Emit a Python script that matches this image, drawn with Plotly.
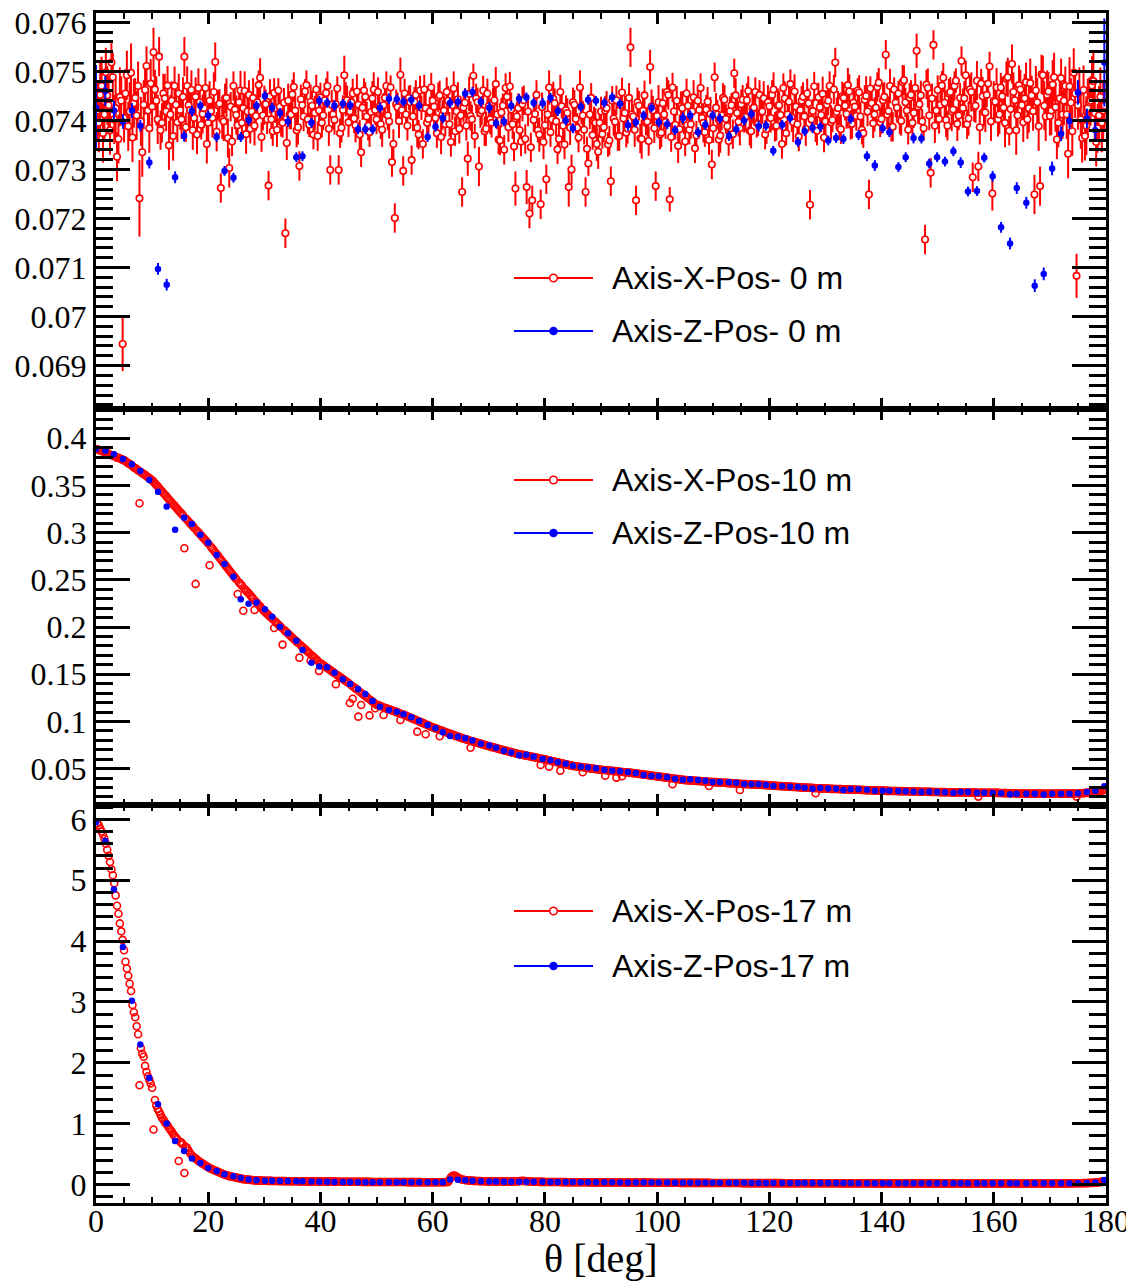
import numpy as np
import plotly.graph_objects as go
from plotly.subplots import make_subplots

# ---------------- data ----------------
# red series, bins A at 0.25 + 0.5*i  and bins B at 0.5 + 0.5*i (deg)
red_top_a = [
.07420,.07452,.07374,.07498,.07431,.07518,.07402,.07326,.07448,.06944,
.07455,.07388,.07497,.07435,.07410,.07241,.07335,.07462,.07420,.07475,
.07539,.07440,.07530,.07395,.07445,.07471,.07412,.07368,.07432,.07455,
.07402,.07530,.07470,.07421,.07380,.07448,.07466,.07391,.07425,.07352,
.07440,.07405,.07519,.07431,.07262,.07398,.07446,.07303,.07357,.07422,
.07390,.07461,.07425,.07372,.07452,.07418,.07389,.07437,.07487,.07410,
.07433,.07267,.07402,.07456,.07381,.07428,.07395,.07170,.07440,.07412,
.07468,.07380,.07307,.07431,.07459,.07402,.07438,.07371,.07463,.07420,
.07395,.07441,.07470,.07299,.07412,.07433,.07299,.07385,.07492,.07441,
.07418,.07455,.07390,.07432,.07335,.07461,.07408,.07376,.07445,.07421,
.07458,.07392,.07431,.07470,.07398,.07315,.07201,.07427,.07493,.07297,
.07412,.07446,.07319,.07438,.07385,.07461,.07352,.07425,.07403,.07467,
.07428,.07374,.07451,.07411,.07392,.07440,.07356,.07465,.07418,.07383,
.07254,.07436,.07322,.07409,.07491,.07445,.07306,.07420,.07378,.07455,
.07402,.07437,.07474,.07361,.07416,.07340,.07448,.07469,.07392,.07261,
.07425,.07357,.07441,.07264,.07210,.07237,.07413,.07380,.07229,.07356,
.07280,.07467,.07402,.07435,.07341,.07458,.07389,.07421,.07264,.07300,
.07432,.07385,.07467,.07410,.07254,.07312,.07446,.07398,.07352,.07395,
.07372,.07420,.07351,.07276,.07404,.07441,.07368,.07457,.07415,.07383,
.07549,.07408,.07237,.07430,.07362,.07451,.07397,.07509,.07420,.07266,
.07437,.07375,.07412,.07458,.07239,.07467,.07391,.07348,.07429,.07402,
.07455,.07381,.07418,.07343,.07440,.07466,.07395,.07422,.07360,.07310,
.07488,.07412,.07369,.07446,.07403,.07358,.07431,.07496,.07415,.07384,
.07442,.07407,.07460,.07378,.07426,.07395,.07452,.07418,.07371,.07437,
.07405,.07463,.07389,.07431,.07352,.07445,.07412,.07474,.07396,.07428,
.07367,.07440,.07408,.07455,.07228,.07419,.07386,.07447,.07411,.07365,
.07432,.07470,.07401,.07518,.07425,.07382,.07446,.07413,.07459,.07393,
.07428,.07461,.07408,.07374,.07450,.07249,.07435,.07412,.07468,.07396,
.07441,.07534,.07419,.07387,.07463,.07426,.07402,.07478,.07437,.07381,
.07452,.07415,.07542,.07433,.07398,.07157,.07466,.07293,.07554,.07420,
.07403,.07471,.07436,.07389,.07458,.07422,.07481,.07410,.07521,.07445,
.07392,.07463,.07284,.07430,.07306,.07475,.07418,.07452,.07510,.07251,
.07438,.07402,.07467,.07426,.07485,.07379,.07515,.07441,.07410,.07463,
.07396,.07478,.07425,.07451,.07249,.07437,.07266,.07492,.07408,.07459,
.07420,.07488,.07361,.07445,.07412,.07470,.07332,.07436,.07497,.07083,
.07458,.07364,.07368,.07425,.07440,.07480,.07356,.07410,.07395,.07430]

red_top_b = [
.07395,.07470,.07412,.07451,.07380,.07488,.07425,.07362,.07440,.07405,
.07492,.07418,.07365,.07446,.07470,.07398,.07432,.07511,.07384,.07428,
.07463,.07402,.07380,.07455,.07418,.07349,.07440,.07470,.07396,.07421,
.07448,.07386,.07431,.07462,.07405,.07371,.07437,.07413,.07466,.07395,
.07419,.07458,.07377,.07434,.07402,.07445,.07364,.07428,.07470,.07411,
.07437,.07395,.07460,.07418,.07383,.07446,.07409,.07472,.07366,.07431,
.07402,.07449,.07378,.07425,.07461,.07397,.07436,.07354,.07412,.07453,
.07420,.07386,.07443,.07408,.07472,.07391,.07430,.07415,.07368,.07447,
.07410,.07456,.07383,.07432,.07401,.07465,.07374,.07421,.07443,.07396,
.07437,.07404,.07459,.07371,.07426,.07448,.07389,.07417,.07463,.07402,
.07428,.07381,.07446,.07410,.07467,.07352,.07433,.07399,.07421,.07455,
.07389,.07437,.07408,.07452,.07371,.07426,.07463,.07395,.07418,.07440,
.07405,.07447,.07366,.07420,.07458,.07392,.07431,.07378,.07443,.07410,
.07426,.07389,.07454,.07402,.07368,.07437,.07415,.07461,.07383,.07429,
.07395,.07441,.07412,.07359,.07430,.07466,.07386,.07422,.07347,.07408,
.07380,.07433,.07362,.07418,.07345,.07401,.07452,.07371,.07427,.07390,
.07412,.07376,.07444,.07398,.07362,.07429,.07351,.07415,.07385,.07437,
.07403,.07365,.07428,.07381,.07342,.07412,.07370,.07395,.07336,.07418,
.07386,.07425,.07359,.07440,.07397,.07368,.07431,.07404,.07375,.07446,
.07412,.07381,.07437,.07363,.07420,.07395,.07358,.07428,.07384,.07409,
.07371,.07435,.07397,.07452,.07366,.07418,.07440,.07382,.07425,.07357,
.07430,.07392,.07447,.07369,.07421,.07405,.07376,.07438,.07413,.07384,
.07426,.07361,.07410,.07442,.07388,.07419,.07372,.07451,.07397,.07433,
.07405,.07441,.07379,.07424,.07458,.07393,.07416,.07445,.07382,.07429,
.07452,.07387,.07430,.07411,.07466,.07374,.07438,.07406,.07459,.07392,
.07421,.07448,.07383,.07435,.07402,.07469,.07379,.07427,.07454,.07398,
.07440,.07396,.07463,.07417,.07385,.07449,.07430,.07472,.07391,.07436,
.07409,.07457,.07381,.07442,.07418,.07465,.07394,.07426,.07477,.07403,
.07448,.07412,.07470,.07387,.07436,.07455,.07399,.07482,.07420,.07446,
.07395,.07466,.07428,.07451,.07384,.07473,.07410,.07445,.07389,.07462,
.07432,.07487,.07401,.07455,.07418,.07470,.07393,.07446,.07425,.07492,
.07404,.07458,.07427,.07481,.07386,.07449,.07416,.07475,.07398,.07440,
.07467,.07412,.07449,.07395,.07488,.07423,.07458,.07380,.07472,.07431,
.07445,.07402,.07476,.07419,.07461,.07388,.07494,.07430,.07452,.07409,
.07473,.07427,.07395,.07486,.07440,.07412,.07469,.07378,.07455,.07431,
.07402,.07462,.07389,.07437,.07471,.07415,.07384,.07448,.07420]

red_top_err_a = [
.0006,.0007,.0006,.0005,.0006,.0004,.0005,.0005,.0006,.00055,.0005,.0005,.0006,.0005,.0005,.00078,.0005,.0005,.0004,.0005,
.0005,.0005,.0004,.0004,.0005,.0004,.0004,.0005,.0004,.0004,.0004,.0004,.0004,.0004,.0004,.0004,.0004,.0003,.0004,.0004,
.0004,.0004,.0004,.0003,.0003,.0004,.0004,.0004,.0003,.0004,.0003,.0004,.0003,.0004,.0003,.0003,.0004,.0003,.0004,.0003,
.0003,.0003,.0004,.0003,.00035,.0003,.0003,.0003,.00035,.0003,.0003,.00035,.0003,.0003,.00025,.0003,.00035,.0003,.0003,.0003,
.0003,.00035,.0003,.0003,.0003,.00035,.0003,.0003,.0004,.0003,.0003,.0003,.00035,.0003,.0003,.00025,.0003,.0003,.00035,.0003,
.0003,.0003,.00025,.0003,.00035,.0003,.0003,.0003,.00035,.0003,.0003,.00025,.0003,.0003,.0004,.0003,.0003,.00035,.0003,.0003,
.00035,.0003,.0003,.0003,.00025,.0003,.0003,.00035,.0003,.0003,.0003,.0003,.00035,.0003,.00025,.0003,.0004,.0003,.0003,.0003,
.0003,.0003,.00035,.0003,.0003,.0003,.00025,.0003,.0003,.00035,.0003,.0003,.0003,.00035,.0003,.0003,.0003,.00025,.0003,.00035,
.0003,.00035,.0003,.0003,.0003,.00035,.0003,.0003,.0004,.0003,.0003,.0003,.00035,.0003,.0003,.00025,.0003,.0003,.00035,.0003,
.0003,.0003,.00025,.0003,.00035,.0003,.0003,.0003,.00035,.0003,.0004,.00025,.0003,.0003,.0004,.0003,.0003,.00035,.0003,.0003,
.00035,.0003,.0003,.0003,.00025,.0003,.0003,.00035,.0003,.0003,.0003,.0003,.00035,.0003,.00025,.0003,.0004,.0003,.0003,.0003,
.0003,.0003,.00035,.0003,.0003,.0003,.00025,.0003,.0003,.00035,.0003,.0003,.0003,.00035,.0003,.0003,.0003,.00025,.0003,.00035,
.0003,.00035,.0003,.0003,.0003,.00035,.0003,.0003,.0004,.0003,.0003,.0003,.00035,.0003,.0003,.00025,.0003,.0003,.00035,.0003,
.0003,.0003,.00025,.0003,.00035,.0003,.0003,.0003,.00035,.0003,.0003,.00025,.0003,.0003,.0004,.0003,.0003,.00035,.0003,.0003,
.00035,.0003,.0003,.0003,.00025,.0003,.0003,.00035,.0003,.0003,.0003,.0003,.00035,.0003,.00025,.0003,.0004,.0003,.0003,.0003,
.0003,.0003,.00035,.0003,.0003,.0003,.00025,.0003,.0003,.00035,.0003,.0003,.0003,.00035,.0003,.0003,.0003,.00025,.0003,.00035,
.0003,.00035,.0003,.0004,.00035,.0003,.0004,.00035,.0003,.0004,.0004,.0004,.0005,.0004,.0004,.0005,.0004,.0004,.0005,.0004,
.0005,.0005,.0004,.0005,.0005,.0004,.0005,.0005,.0005,.00045,.0005,.0005,.0005,.0006,.0005,.0006,.0005,.0006,.0006,.0005]

red_top_err_b = [
.0006,.0006,.0005,.0006,.0005,.0005,.0006,.0005,.0005,.0005,.0005,.0006,.0005,.0004,.0005,.0005,.0005,.0004,.0005,.0005,
.0004,.0005,.0004,.0004,.0004,.0005,.0004,.0004,.0004,.0004,.0004,.0003,.0004,.0004,.0004,.0004,.0003,.0004,.0004,.0004,
.0003,.0004,.0004,.0003,.0004,.0003,.0004,.0003,.0003,.0004,.0003,.0003,.0004,.0003,.0003,.0004,.0003,.0003,.0003,.0004,
.0003,.00035,.0003,.0003,.00025,.0003,.0003,.00035,.0003,.0003,.0003,.00035,.0003,.0003,.0003,.00025,.0003,.00035,.0003,.0003,
.0003,.0003,.00035,.0003,.0003,.00025,.0003,.0003,.00035,.0003,.0003,.0003,.00035,.0003,.00025,.0003,.0003,.0003,.00035,.0003,
.0003,.00035,.0003,.0003,.00025,.0003,.0003,.00035,.0003,.0003,.0003,.00035,.0003,.0003,.0003,.00025,.0003,.00035,.0003,.0003,
.0003,.0003,.00035,.0003,.0003,.00025,.0003,.0003,.00035,.0003,.0003,.0003,.00035,.0003,.00025,.0003,.0003,.0003,.00035,.0003,
.0003,.00035,.0003,.0003,.00025,.0003,.0003,.00035,.0003,.0003,.0003,.00035,.0003,.0003,.0003,.00025,.0003,.00035,.0003,.0003,
.0003,.0003,.00035,.0003,.0003,.00025,.0003,.0003,.00035,.0003,.0003,.0003,.00035,.0003,.00025,.0003,.0003,.0003,.00035,.0003,
.0003,.00035,.0003,.0003,.00025,.0003,.0003,.00035,.0003,.0003,.0003,.00035,.0003,.0003,.0003,.00025,.0003,.00035,.0003,.0003,
.0003,.0003,.00035,.0003,.0003,.00025,.0003,.0003,.00035,.0003,.0003,.0003,.00035,.0003,.00025,.0003,.0003,.0003,.00035,.0003,
.0003,.00035,.0003,.0003,.00025,.0003,.0003,.00035,.0003,.0003,.0003,.00035,.0003,.0003,.0003,.00025,.0003,.00035,.0003,.0003,
.0003,.0003,.00035,.0003,.0003,.00025,.0003,.0003,.00035,.0003,.0003,.0003,.00035,.0003,.00025,.0003,.0003,.0003,.00035,.0003,
.0003,.00035,.0003,.0003,.00025,.0003,.0003,.00035,.0003,.0003,.0003,.00035,.0003,.0003,.0003,.00025,.0003,.00035,.0003,.0003,
.0003,.0003,.00035,.0003,.0003,.00025,.0003,.0003,.00035,.0003,.0003,.0003,.00035,.0003,.00025,.0003,.0003,.0003,.00035,.0003,
.0003,.0003,.00035,.0003,.0004,.0003,.00035,.0003,.0004,.0003,.00035,.0004,.0003,.0004,.00035,.0004,.0004,.0003,.0004,.0004,
.0004,.0004,.0004,.0005,.0004,.0004,.0004,.0005,.0004,.0004,.0005,.0004,.0005,.0004,.0005,.0005,.0004,.0005,.0005,.0004,
.0005,.0005,.0005,.0004,.0005,.0005,.0006,.0005,.0005,.0005,.0006,.0005,.0006,.0005,.0006,.0006,.0005,.0006,.0006]

# blue series: theta positions (deg), shared by all panels
blue_theta = [
0.0,1.66,3.2,4.8,6.4,7.9,9.5,11.05,12.6,14.1,15.7,17.1,18.6,20.0,21.5,22.9,
24.5,25.8,27.2,28.6,30.1,31.4,32.8,34.2,35.7,36.8,38.4,39.8,41.2,42.5,44.0,45.3,
46.7,48.0,49.3,50.6,52.2,53.6,54.8,56.2,57.6,59.1,60.5,61.8,63.1,64.5,65.8,67.1,
68.6,70.1,71.3,72.7,74.0,75.4,76.7,78.0,79.6,81.0,82.3,83.7,85.0,86.4,87.7,89.1,
90.6,92.0,93.4,94.8,96.2,97.6,99.0,100.3,101.8,103.2,104.6,105.9,107.3,108.6,109.9,111.2,
112.8,114.1,115.5,116.8,118.1,119.4,120.7,122.3,123.7,125.1,126.3,127.7,129.1,130.5,131.9,133.2,
134.5,135.9,137.4,138.8,140.2,141.4,143.0,144.3,145.7,147.1,148.5,149.9,151.3,152.8,154.1,155.4,
157.0,158.3,159.8,161.3,162.9,164.1,165.8,167.3,168.9,170.4,172.0,173.5,175.0,176.6,178.1,179.7]

blue_top = [
.07426,.07460,.07420,.07398,.07420,.07389,.07314,.07097,.07065,.07284,.07368,.07419,.07430,.07410,.07366,.07297,
.07283,.07366,.07401,.07430,.07450,.07426,.07415,.07398,.07325,.07327,.07395,.07440,.07436,.07430,.07434,.07431,
.07382,.07382,.07382,.07426,.07444,.07443,.07438,.07442,.07430,.07366,.07387,.07405,.07436,.07438,.07455,.07458,
.07438,.07426,.07394,.07398,.07430,.07444,.07447,.07436,.07435,.07446,.07419,.07400,.07384,.07428,.07442,.07440,
.07436,.07447,.07434,.07390,.07396,.07410,.07426,.07396,.07392,.07380,.07405,.07410,.07376,.07391,.07410,.07404,
.07368,.07382,.07400,.07413,.07388,.07389,.07338,.07391,.07405,.07356,.07378,.07385,.07387,.07359,.07364,.07362,
.07403,.07370,.07327,.07308,.07384,.07376,.07305,.07325,.07364,.07363,.07312,.07325,.07316,.07337,.07314,.07255,
.07256,.07324,.07286,.07182,.07149,.07262,.07232,.07063,.07087,.07302,.07373,.07399,.07457,.07404,.07380,.07518]

blue_top_err = [
.00087,.0003,.0002,.00015,.00015,.00012,.00012,.00012,.00012,.00012,.00011,.00011,.0001,.0001,.0001,.0001,
.0001,.0001,.00011,.0001,.0001,.0001,.0001,.00011,.0001,.0001,.0001,.0001,.0001,.00011,.0001,.0001,
.0001,.0001,.0001,.0001,.00011,.0001,.0001,.0001,.0001,.0001,.0001,.00011,.0001,.0001,.0001,.0001,
.0001,.00011,.0001,.0001,.0001,.0001,.0001,.0001,.00011,.0001,.0001,.0001,.0001,.0001,.0001,.0001,
.0001,.0001,.0001,.00011,.0001,.0001,.0001,.0001,.0001,.0001,.00011,.0001,.0001,.0001,.0001,.0001,
.0001,.0001,.0001,.0001,.00011,.0001,.0001,.0001,.0001,.0001,.0001,.00011,.0001,.0001,.0001,.0001,
.0001,.0001,.0001,.00011,.0001,.0001,.0001,.0001,.00011,.0001,.0001,.0001,.0001,.0001,.00011,.0001,
.0001,.0001,.00011,.00011,.00012,.00012,.00012,.00013,.00013,.00014,.00015,.00016,.00025,.0002,.00022,.0009]

red_mid_a = [
.3884,.3870,.3861,.3843,.3835,.3820,.3812,.3795,.3786,.3772,
.3758,.3736,.3719,.3692,.3675,.3311,.3630,.3612,.3588,.3566,
.3541,.3505,.3474,.3438,.3405,.3370,.3336,.3301,.3270,.3233,
.3202,.2835,.3136,.3101,.3070,.2457,.3003,.2970,.2938,.2903,
.2655,.2830,.2792,.2755,.2716,.2679,.2640,.2601,.2565,.2526,
.2351,.2457,.2172,.2388,.2355,.2320,.2181,.2252,.2219,.2184,
.2153,.2126,.2098,.1990,.2041,.2014,.1814,.1957,.1930,.1901,
.1874,.1846,.1676,.1792,.1766,.1738,.1644,.1684,.1657,.1536,
.1608,.1587,.1566,.1545,.1523,.1395,.1482,.1460,.1440,.1418,
.1196,.1240,.1350,.1051,.1175,.1281,.1258,.1064,.1212,.1140,
.1173,.1162,.1069,.1140,.1129,.1118,.1107,.1096,.1016,.1074,
.1061,.1048,.1035,.1022,.0892,.0996,.0983,.0864,.0957,.0944,
.0933,.0922,.0843,.0900,.0889,.0878,.0867,.0856,.0845,.0834,
.0823,.0814,.0805,.0722,.0787,.0778,.0769,.0760,.0751,.0742,
.0735,.0727,.0719,.0710,.0703,.0694,.0687,.0679,.0670,.0663,
.0655,.0650,.0643,.0637,.0631,.0625,.0619,.0612,.0539,.0601,
.0595,.0521,.0581,.0574,.0567,.0479,.0553,.0546,.0539,.0532,
.0526,.0522,.0518,.0462,.0510,.0506,.0502,.0498,.0494,.0490,
.0486,.0426,.0480,.0477,.0474,.0405,.0468,.0419,.0462,.0459,
.0456,.0452,.0449,.0444,.0441,.0436,.0433,.0428,.0425,.0420,
.0416,.0413,.0408,.0405,.0400,.0335,.0392,.0389,.0384,.0381,
.0378,.0376,.0374,.0372,.0369,.0368,.0366,.0363,.0317,.0359,
.0357,.0355,.0353,.0351,.0349,.0347,.0345,.0343,.0341,.0274,
.0338,.0337,.0335,.0334,.0332,.0331,.0329,.0328,.0326,.0325,
.0322,.0320,.0318,.0316,.0314,.0313,.0311,.0309,.0307,.0305,
.0303,.0302,.0300,.0298,.0297,.0295,.0239,.0292,.0290,.0289,
.0288,.0287,.0286,.0285,.0284,.0283,.0282,.0281,.0280,.0279,
.0278,.0277,.0275,.0274,.0273,.0272,.0271,.0270,.0269,.0267,
.0267,.0266,.0265,.0264,.0264,.0263,.0262,.0262,.0261,.0260,
.0259,.0258,.0258,.0257,.0256,.0255,.0255,.0254,.0253,.0252,
.0252,.0251,.0251,.0250,.0250,.0249,.0249,.0249,.0248,.0248,
.0247,.0247,.0246,.0246,.0204,.0246,.0245,.0245,.0245,.0244,
.0244,.0243,.0242,.0241,.0241,.0240,.0239,.0239,.0238,.0237,
.0237,.0236,.0236,.0236,.0236,.0235,.0235,.0235,.0235,.0235,
.0235,.0235,.0235,.0236,.0236,.0236,.0236,.0237,.0237,.0204,
.0238,.0240,.0242,.0245,.0249,.0253,.0258,.0263,.0268,.0274]

red_mid_b = [
.3876,.3868,.3850,.3841,.3826,.3817,.3802,.3793,.3779,.3768,
.3745,.3726,.3703,.3684,.3660,.3641,.3620,.3598,.3579,.3556,
.3522,.3490,.3455,.3420,.3388,.3352,.3318,.3286,.3250,.3217,
.3184,.3150,.3119,.3085,.3051,.3019,.2986,.2952,.2920,.2886,
.2849,.2811,.2773,.2734,.2697,.2659,.2620,.2583,.2545,.2506,
.2472,.2439,.2404,.2370,.2337,.2302,.2269,.2234,.2200,.2167,
.2139,.2110,.2083,.2055,.2027,.1998,.1971,.1943,.1915,.1887,
.1860,.1833,.1806,.1779,.1752,.1725,.1698,.1671,.1644,.1617,
.1596,.1575,.1554,.1533,.1512,.1491,.1470,.1449,.1428,.1407,
.1384,.1361,.1338,.1315,.1292,.1269,.1246,.1223,.1200,.1177,
.1167,.1156,.1145,.1134,.1123,.1112,.1101,.1090,.1079,.1068,
.1055,.1042,.1029,.1016,.1003,.0990,.0977,.0964,.0951,.0938,
.0927,.0916,.0905,.0894,.0883,.0872,.0861,.0850,.0839,.0828,
.0819,.0810,.0801,.0792,.0783,.0774,.0765,.0756,.0747,.0738,
.0731,.0723,.0714,.0706,.0698,.0691,.0682,.0675,.0666,.0659,
.0653,.0647,.0641,.0634,.0629,.0623,.0617,.0610,.0605,.0598,
.0592,.0585,.0578,.0571,.0564,.0557,.0550,.0543,.0536,.0529,
.0525,.0521,.0517,.0513,.0509,.0505,.0501,.0497,.0493,.0489,
.0486,.0483,.0480,.0477,.0474,.0471,.0468,.0465,.0462,.0459,
.0455,.0451,.0447,.0443,.0439,.0435,.0431,.0427,.0423,.0419,
.0415,.0411,.0407,.0403,.0399,.0395,.0391,.0387,.0383,.0379,
.0377,.0375,.0373,.0371,.0369,.0367,.0365,.0363,.0361,.0359,
.0357,.0355,.0353,.0351,.0349,.0347,.0345,.0343,.0341,.0339,
.0338,.0336,.0335,.0333,.0332,.0330,.0329,.0327,.0326,.0324,
.0321,.0319,.0317,.0315,.0313,.0312,.0310,.0308,.0306,.0304,
.0302,.0301,.0299,.0297,.0296,.0294,.0293,.0291,.0290,.0289,
.0287,.0286,.0285,.0284,.0283,.0282,.0281,.0280,.0279,.0278,
.0277,.0276,.0274,.0273,.0272,.0271,.0270,.0269,.0268,.0267,
.0266,.0265,.0264,.0264,.0263,.0262,.0261,.0261,.0260,.0259,
.0258,.0258,.0257,.0256,.0255,.0255,.0254,.0253,.0252,.0252,
.0251,.0251,.0250,.0250,.0249,.0249,.0248,.0248,.0248,.0247,
.0247,.0246,.0246,.0246,.0245,.0245,.0245,.0244,.0244,.0244,
.0243,.0242,.0242,.0241,.0240,.0239,.0239,.0238,.0237,.0237,
.0236,.0236,.0236,.0235,.0235,.0235,.0235,.0234,.0234,.0234,
.0234,.0234,.0235,.0235,.0235,.0236,.0236,.0236,.0237,.0237,
.0239,.0241,.0243,.0247,.0251,.0256,.0261,.0266,.0271]

blue_mid = [
.3887,.3869,.3830,.3781,.3724,.3654,.3558,.3434,.3276,.3032,.3159,.3092,.2979,.2894,.2764,.2668,
.2534,.2294,.2248,.2259,.2188,.2110,.2004,.1934,.1856,.1757,.1623,.1581,.1574,.1517,.1447,.1397,
.1344,.1291,.1217,.1157,.1122,.1104,.1076,.1045,.1005,.0963,.0928,.0886,.0846,.0839,.0822,.0797,
.0765,.0744,.0722,.0691,.0670,.0642,.0646,.0627,.0603,.0589,.0568,.0553,.0532,.0521,.0511,.0504,
.0486,.0479,.0472,.0465,.0454,.0433,.0423,.0419,.0409,.0394,.0383,.0387,.0380,.0373,.0359,.0359,
.0356,.0352,.0338,.0334,.0334,.0327,.0316,.0313,.0309,.0306,.0298,.0288,.0295,.0291,.0288,.0274,
.0281,.0281,.0277,.0267,.0267,.0267,.0263,.0260,.0256,.0253,.0256,.0253,.0249,.0246,.0253,.0253,
.0246,.0246,.0242,.0239,.0228,.0235,.0235,.0235,.0225,.0235,.0235,.0235,.0239,.0253,.0267,.0313]

red_bot_a = [
5.93,5.85,5.75,5.60,5.40,5.18,4.95,4.58,4.29,4.02,
3.66,3.43,3.18,2.83,2.60,1.632,2.15,1.95,1.78,1.66,
0.904,1.30,1.20,1.10,1.03,0.97,0.90,0.83,0.77,0.388,
0.69,0.191,0.60,0.52,0.46,0.43,0.39,0.36,0.33,0.30,
0.27,0.25,0.23,0.21,0.19,0.17,0.155,0.14,0.13,0.12,
0.11,0.10,0.09,0.085,0.08,0.075,0.07,0.068,0.066,0.064,
.063,.062,.061,.060,.059,.058,.058,.057,.056,.056,
.055,.055,.054,.054,.053,.053,.052,.052,.051,.051,
.050,.050,.050,.049,.049,.049,.048,.048,.048,.047,
.047,.047,.046,.046,.046,.045,.045,.045,.044,.044,
.044,.044,.043,.043,.043,.043,.042,.042,.042,.042,
.042,.041,.041,.041,.041,.041,.040,.040,.040,.040,
.040,.040,.040,.040,.041,.045,.120,.150,.130,.100,
.085,.075,.070,.065,.062,.060,.058,.056,.055,.054,
.053,.052,.052,.051,.050,.050,.049,.049,.050,.052,
.056,.060,.060,.056,.052,.049,.047,.046,.045,.045,
.044,.044,.043,.043,.042,.042,.041,.041,.040,.040,
.039,.039,.039,.038,.038,.038,.037,.037,.037,.036,
.036,.036,.035,.035,.035,.035,.034,.034,.034,.034,
.033,.033,.033,.033,.032,.032,.032,.032,.031,.031,
.031,.031,.031,.030,.030,.030,.030,.030,.029,.029,
.029,.029,.029,.028,.028,.028,.028,.028,.028,.027,
.027,.027,.027,.027,.026,.026,.026,.026,.026,.026,
.025,.025,.025,.025,.025,.025,.025,.024,.024,.024,
.024,.024,.024,.024,.024,.023,.023,.023,.023,.023,
.023,.023,.023,.023,.022,.022,.022,.022,.022,.022,
.022,.022,.022,.022,.022,.021,.021,.021,.021,.021,
.021,.021,.021,.021,.021,.021,.021,.020,.020,.020,
.020,.020,.020,.020,.020,.020,.020,.020,.020,.020,
.020,.020,.020,.020,.020,.020,.020,.020,.020,.020,
.020,.020,.020,.020,.020,.020,.019,.019,.019,.019,
.019,.019,.019,.019,.019,.019,.019,.019,.019,.019,
.019,.019,.019,.019,.019,.019,.019,.019,.019,.019,
.019,.019,.019,.019,.019,.019,.019,.019,.019,.019,
.019,.019,.019,.020,.020,.020,.020,.021,.021,.022,
.022,.023,.024,.025,.027,.029,.032,.036,.042,.050]

red_bot_b = [
5.90,5.80,5.68,5.50,5.30,5.08,4.75,4.45,4.16,3.85,
3.55,3.30,2.95,2.75,2.47,2.24,2.10,1.85,1.72,1.59,
1.39,1.24,1.15,1.07,1.00,0.93,0.87,0.80,0.75,0.70,
0.66,0.62,0.56,0.49,0.445,0.41,0.375,0.345,0.315,0.285,
0.26,0.24,0.22,0.20,0.18,0.162,0.148,0.135,0.125,0.115,
0.105,0.095,0.088,0.082,0.078,0.072,0.069,0.067,0.065,0.063,
.062,.061,.060,.059,.058,.058,.057,.056,.056,.055,
.055,.054,.054,.053,.053,.052,.052,.051,.051,.050,
.050,.050,.049,.049,.049,.048,.048,.048,.047,.047,
.047,.046,.046,.046,.045,.045,.045,.044,.044,.044,
.044,.043,.043,.043,.043,.042,.042,.042,.042,.042,
.041,.041,.041,.041,.041,.040,.040,.040,.040,.040,
.040,.040,.040,.040,.043,.080,.140,.145,.115,.092,
.080,.072,.067,.063,.061,.059,.057,.055,.054,.053,
.053,.052,.051,.051,.050,.050,.049,.049,.051,.054,
.058,.061,.058,.054,.050,.048,.046,.045,.045,.044,
.044,.043,.043,.042,.042,.041,.041,.040,.040,.039,
.039,.039,.038,.038,.038,.037,.037,.037,.036,.036,
.036,.035,.035,.035,.035,.034,.034,.034,.034,.033,
.033,.033,.033,.032,.032,.032,.032,.031,.031,.031,
.031,.031,.030,.030,.030,.030,.030,.029,.029,.029,
.029,.029,.028,.028,.028,.028,.028,.028,.027,.027,
.027,.027,.027,.026,.026,.026,.026,.026,.026,.025,
.025,.025,.025,.025,.025,.025,.024,.024,.024,.024,
.024,.024,.024,.024,.023,.023,.023,.023,.023,.023,
.023,.023,.023,.022,.022,.022,.022,.022,.022,.022,
.022,.022,.022,.022,.021,.021,.021,.021,.021,.021,
.021,.021,.021,.021,.021,.021,.020,.020,.020,.020,
.020,.020,.020,.020,.020,.020,.020,.020,.020,.020,
.020,.020,.020,.020,.020,.020,.020,.020,.020,.020,
.020,.020,.020,.020,.020,.020,.019,.019,.019,.019,
.019,.019,.019,.019,.019,.019,.019,.019,.019,.019,
.019,.019,.019,.019,.019,.019,.019,.019,.019,.019,
.019,.019,.019,.019,.019,.019,.019,.019,.019,.019,
.019,.019,.019,.020,.020,.020,.021,.021,.022,.022,
.023,.024,.026,.028,.030,.034,.039,.046,.055]

blue_bot = [
5.951,5.643,4.849,3.901,3.018,2.301,1.752,1.320,1.002,0.716,0.552,0.427,0.355,0.273,0.223,0.169,
0.136,0.108,0.086,0.070,0.065,0.062,0.060,0.058,0.055,0.054,0.050,0.047,0.045,0.043,0.042,0.041,
0.040,0.040,0.039,0.039,0.039,0.039,0.038,0.038,0.038,0.038,0.038,0.040,0.082,0.078,0.070,0.062,
0.055,0.052,0.050,0.048,0.047,0.047,0.046,0.046,0.045,0.044,0.043,0.042,0.041,0.040,0.039,0.038,
0.038,0.037,0.036,0.035,0.035,0.034,0.034,0.033,0.033,0.032,0.032,0.031,0.031,0.030,0.030,0.030,
0.029,0.029,0.029,0.028,0.028,0.028,0.027,0.027,0.027,0.026,0.026,0.026,0.026,0.025,0.025,0.025,
0.025,0.024,0.024,0.024,0.024,0.024,0.023,0.023,0.023,0.023,0.023,0.022,0.022,0.022,0.022,0.022,
0.022,0.022,0.021,0.021,0.021,0.021,0.021,0.021,0.021,0.021,0.022,0.022,0.024,0.028,0.036,0.075]

x_ticks = [0, 20, 40, 60, 80, 100, 120, 140, 160, 180]
legend_rows = [("Axis-X-Pos- 0 m", "Axis-Z-Pos- 0 m"),
               ("Axis-X-Pos-10 m", "Axis-Z-Pos-10 m"),
               ("Axis-X-Pos-17 m", "Axis-Z-Pos-17 m")]

# ---------------- figure ----------------
W, H = 1126, 1282
ML, MR, MT, MB = 96, 20, 13, 79
PH = H - MT - MB
PW = W - ML - MR

def py(p):   # pixel row -> paper y
    return (H - MB - p) / PH

def px(p):   # pixel column -> paper x
    return (p - ML) / PW

RED = "#ff0000"
BLUE = "#0000ff"
SERIF = "Liberation Serif, Times New Roman, serif"
SANS = "Liberation Sans, Arial, sans-serif"

theta_a = 0.25 + 0.5 * np.arange(len(red_top_a))
theta_b = 0.5 + 0.5 * np.arange(len(red_top_b))

def merged(a, b):
    x = np.concatenate([theta_a, theta_b])
    y = np.concatenate([np.asarray(a, float), np.asarray(b, float)])
    o = np.argsort(x, kind="stable")
    return x[o], y[o], o

fig = make_subplots(rows=3, cols=1, shared_xaxes=True, vertical_spacing=0)

panels = [
    (red_top_a, red_top_b, (red_top_err_a, red_top_err_b), blue_top, blue_top_err),
    (red_mid_a, red_mid_b, None, blue_mid, None),
    (red_bot_a, red_bot_b, None, blue_bot, None),
]
for r, (ra, rb, rerr, by, be) in enumerate(panels, start=1):
    xr, yr, order = merged(ra, rb)
    if rerr is not None:
        err = np.concatenate([np.asarray(rerr[0], float), np.asarray(rerr[1], float)])[order]
        mk = dict(symbol="circle", size=6.5, color="white", line=dict(color=RED, width=1.6))
        ey = dict(type="data", array=err, color=RED, thickness=2, width=0)
    else:
        mk = dict(symbol="circle-open", size=7, color=RED, line=dict(color=RED, width=1.6))
        ey = dict(visible=False)
    fig.add_trace(go.Scatter(x=xr, y=yr, mode="markers", marker=mk,
                             error_y=ey, showlegend=False, cliponaxis=False),
                  row=r, col=1)
    eb = dict(type="data", array=be, color=BLUE, thickness=2, width=0) if be is not None else dict(visible=False)
    fig.add_trace(go.Scatter(x=blue_theta, y=by, mode="markers",
                             marker=dict(symbol="circle", size=6.5, color=BLUE),
                             error_y=eb, showlegend=False, cliponaxis=False),
                  row=r, col=1)

tickfont = dict(family=SERIF, size=32, color="black")
xcommon = dict(range=[0, 180], showline=True, linewidth=3, linecolor="black",
               mirror="allticks", ticks="inside", ticklen=11, tickwidth=3,
               tickcolor="black", tickvals=x_ticks, showgrid=False, zeroline=False,
               automargin=False,
               minor=dict(dtick=5, tick0=0, ticks="inside", ticklen=6, tickwidth=2,
                          tickcolor="black", showgrid=False),
               tickfont=tickfont)
for r in (1, 2, 3):
    fig.update_xaxes(**xcommon, row=r, col=1)
fig.update_xaxes(showticklabels=True, ticklabelstandoff=-12,
                 ticklabeloverflow="allow", row=3, col=1)

ycommon = dict(showline=True, linewidth=3, linecolor="black", mirror="allticks",
               ticks="inside", ticklen=34, tickwidth=3, tickcolor="black",
               showgrid=False, zeroline=False, tickfont=tickfont, automargin=False)
fig.update_yaxes(**ycommon, range=[0.068115, 0.07619], dtick=0.001, tick0=0,
                 minor=dict(dtick=0.0002, tick0=0, ticks="inside", ticklen=17, tickwidth=3,
                            tickcolor="black", showgrid=False),
                 row=1, col=1)
fig.update_yaxes(**ycommon, range=[0.0115, 0.431], dtick=0.05, tick0=0,
                 minor=dict(dtick=0.01, tick0=0, ticks="inside", ticklen=17, tickwidth=3,
                            tickcolor="black", showgrid=False),
                 row=2, col=1)
fig.update_yaxes(**ycommon, range=[-0.302, 6.235], dtick=1, tick0=0,
                 minor=dict(dtick=0.2, tick0=0, ticks="inside", ticklen=17, tickwidth=3,
                            tickcolor="black", showgrid=False),
                 row=3, col=1)

b1 = py(409)
b2 = py(805)
fig.update_layout(yaxis=dict(domain=[b1, 1]),
                  yaxis2=dict(domain=[b2, b1]),
                  yaxis3=dict(domain=[0, b2]))

# manual legends (ROOT style: long line with the marker in the middle)
shapes = []
annotations = []
legend_y = [(278, 331), (480, 533), (911, 966)]
for (lab_r, lab_b), (yr_, yb_) in zip(legend_rows, legend_y):
    for lab, yy, col, filled in ((lab_r, yr_, RED, False), (lab_b, yb_, BLUE, True)):
        shapes.append(dict(type="line", xref="paper", yref="paper",
                           x0=px(514), x1=px(593), y0=py(yy), y1=py(yy),
                           line=dict(color=col, width=2)))
        rad = 3.5 if filled else 3.8
        shapes.append(dict(type="circle", xref="paper", yref="paper",
                           xsizemode="pixel", ysizemode="pixel",
                           xanchor=px(553.5), yanchor=py(yy),
                           x0=-rad, x1=rad, y0=-rad, y1=rad,
                           fillcolor=col if filled else "white",
                           line=dict(color=col, width=1.6)))
        annotations.append(dict(text=lab, xref="paper", yref="paper",
                                x=px(610), y=py(yy), xanchor="left", yanchor="middle",
                                showarrow=False,
                                font=dict(family=SANS, size=32, color="black")))

annotations.append(dict(text="θ [deg]", xref="paper", yref="paper",
                        x=0.5, y=py(1258), xanchor="center", yanchor="middle",
                        showarrow=False,
                        font=dict(family=SERIF, size=40, color="black")))

fig.update_layout(width=W, height=H,
                  margin=dict(l=ML, r=MR, t=MT, b=MB, pad=0, autoexpand=False),
                  font=dict(family=SERIF, color="black"),
                  paper_bgcolor="white", plot_bgcolor="white",
                  shapes=shapes, annotations=annotations, showlegend=False)

fig.write_html("out.html")
